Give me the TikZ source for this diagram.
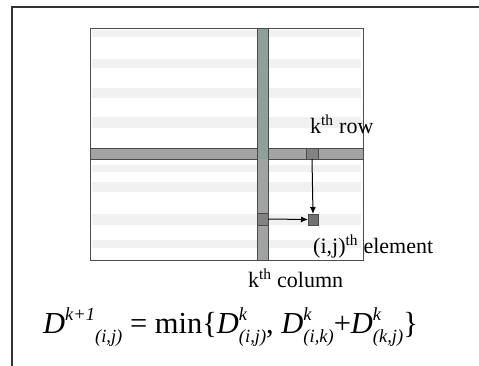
\documentclass[tikz,border=0pt]{standalone}
\usepackage{fontspec}
\setmainfont{Liberation Serif}
\usetikzlibrary{arrows.meta}
\definecolor{colfill}{HTML}{8FA09A}
\definecolor{rowfill}{HTML}{A3A3A3}
\definecolor{edgec}{HTML}{4A4A4A}
\definecolor{stripe}{HTML}{F1F1F1}
\newcommand{\Dterm}[2]{\textit{D}\rlap{\raisebox{0.42em}{\fontsize{18.5}{19}\selectfont\textit{#1}}}\raisebox{-0.32em}{\fontsize{18.5}{19}\selectfont\textit{#2}}}
\begin{document}
\begin{tikzpicture}[x=1pt,y=-1pt,
  bar/.style={draw=edgec,line width=0.8pt,inner sep=0pt,outer sep=0pt},
  cellbox/.style={draw=edgec,line width=0.8pt,inner sep=0pt,outer sep=0pt,fill=rowfill!85!black},
  lbl/.style={anchor=base west,inner sep=0pt,font=\fontsize{22}{24}\selectfont},
  arr/.style={-{Latex[length=7pt,width=6pt]},line width=1pt,black}]
\useasboundingbox (0,0) rectangle (479,365);
\fill[white] (0,0) rectangle (479,365);
% outer frame
\draw[line width=1.6pt,black!80] (12,370) -- (12,7) -- (485,7);
% faint stripes
\foreach \a/\b in {30/37,59/68,88/98,117/128,165/172,182/192,214/225,240/248}
  \fill[stripe] (92,\a) rectangle (361,\b);
% matrix
\node[bar,draw=black!70,minimum width=273pt,minimum height=232pt,anchor=north west] (mat) at (90,28) {};
% k-th row
\node[bar,fill=rowfill,minimum width=273pt,minimum height=11pt,anchor=north west] (row) at (90,148) {};
% k-th column
\node[bar,fill=colfill,minimum width=11pt,minimum height=232pt,anchor=north west] (col) at (257,28) {};
\fill[rowfill!90!colfill] (257.4,159.4) rectangle (267.6,259.6);
\draw[edgec,line width=0.8pt] (257,159) -- (257,260) (268,159) -- (268,260);
% highlighted cells
\node[cellbox,fill=rowfill!80!black,minimum width=12pt,minimum height=11pt] (rc) at (312,153.5) {};
\node[cellbox,fill=rowfill!80!black,minimum width=11pt,minimum height=12pt] (cc) at (262.5,219) {};
\node[cellbox,fill=rowfill!70!black,minimum width=10pt,minimum height=11pt] (tgt) at (313,219.5) {};
% arrows
\draw[arr] (rc.south) -- (tgt.north);
\draw[arr] (cc.east) -- (tgt.west);
% labels
\node[lbl] (lrow) at (310,133) {k\textsuperscript{th} row};
\node[lbl] (lel) at (313,253) {(i,j)\textsuperscript{th} element};
\node[lbl] (lcol) at (248,287) {k\textsuperscript{th} column};
% formula
\node[anchor=base west,inner sep=0pt,font=\fontsize{30.5}{32}\selectfont] (form) at (43,333)
  {\textit{D}\raisebox{0.42em}{\fontsize{18.5}{19}\selectfont\textit{k+1}}\raisebox{-0.32em}{\fontsize{18.5}{19}\selectfont\textit{(i,j)}} = min\{\Dterm{k}{(i,j)}, \Dterm{k}{(i,k)}+\Dterm{k}{(k,j)}\}};
\end{tikzpicture}
\end{document}
